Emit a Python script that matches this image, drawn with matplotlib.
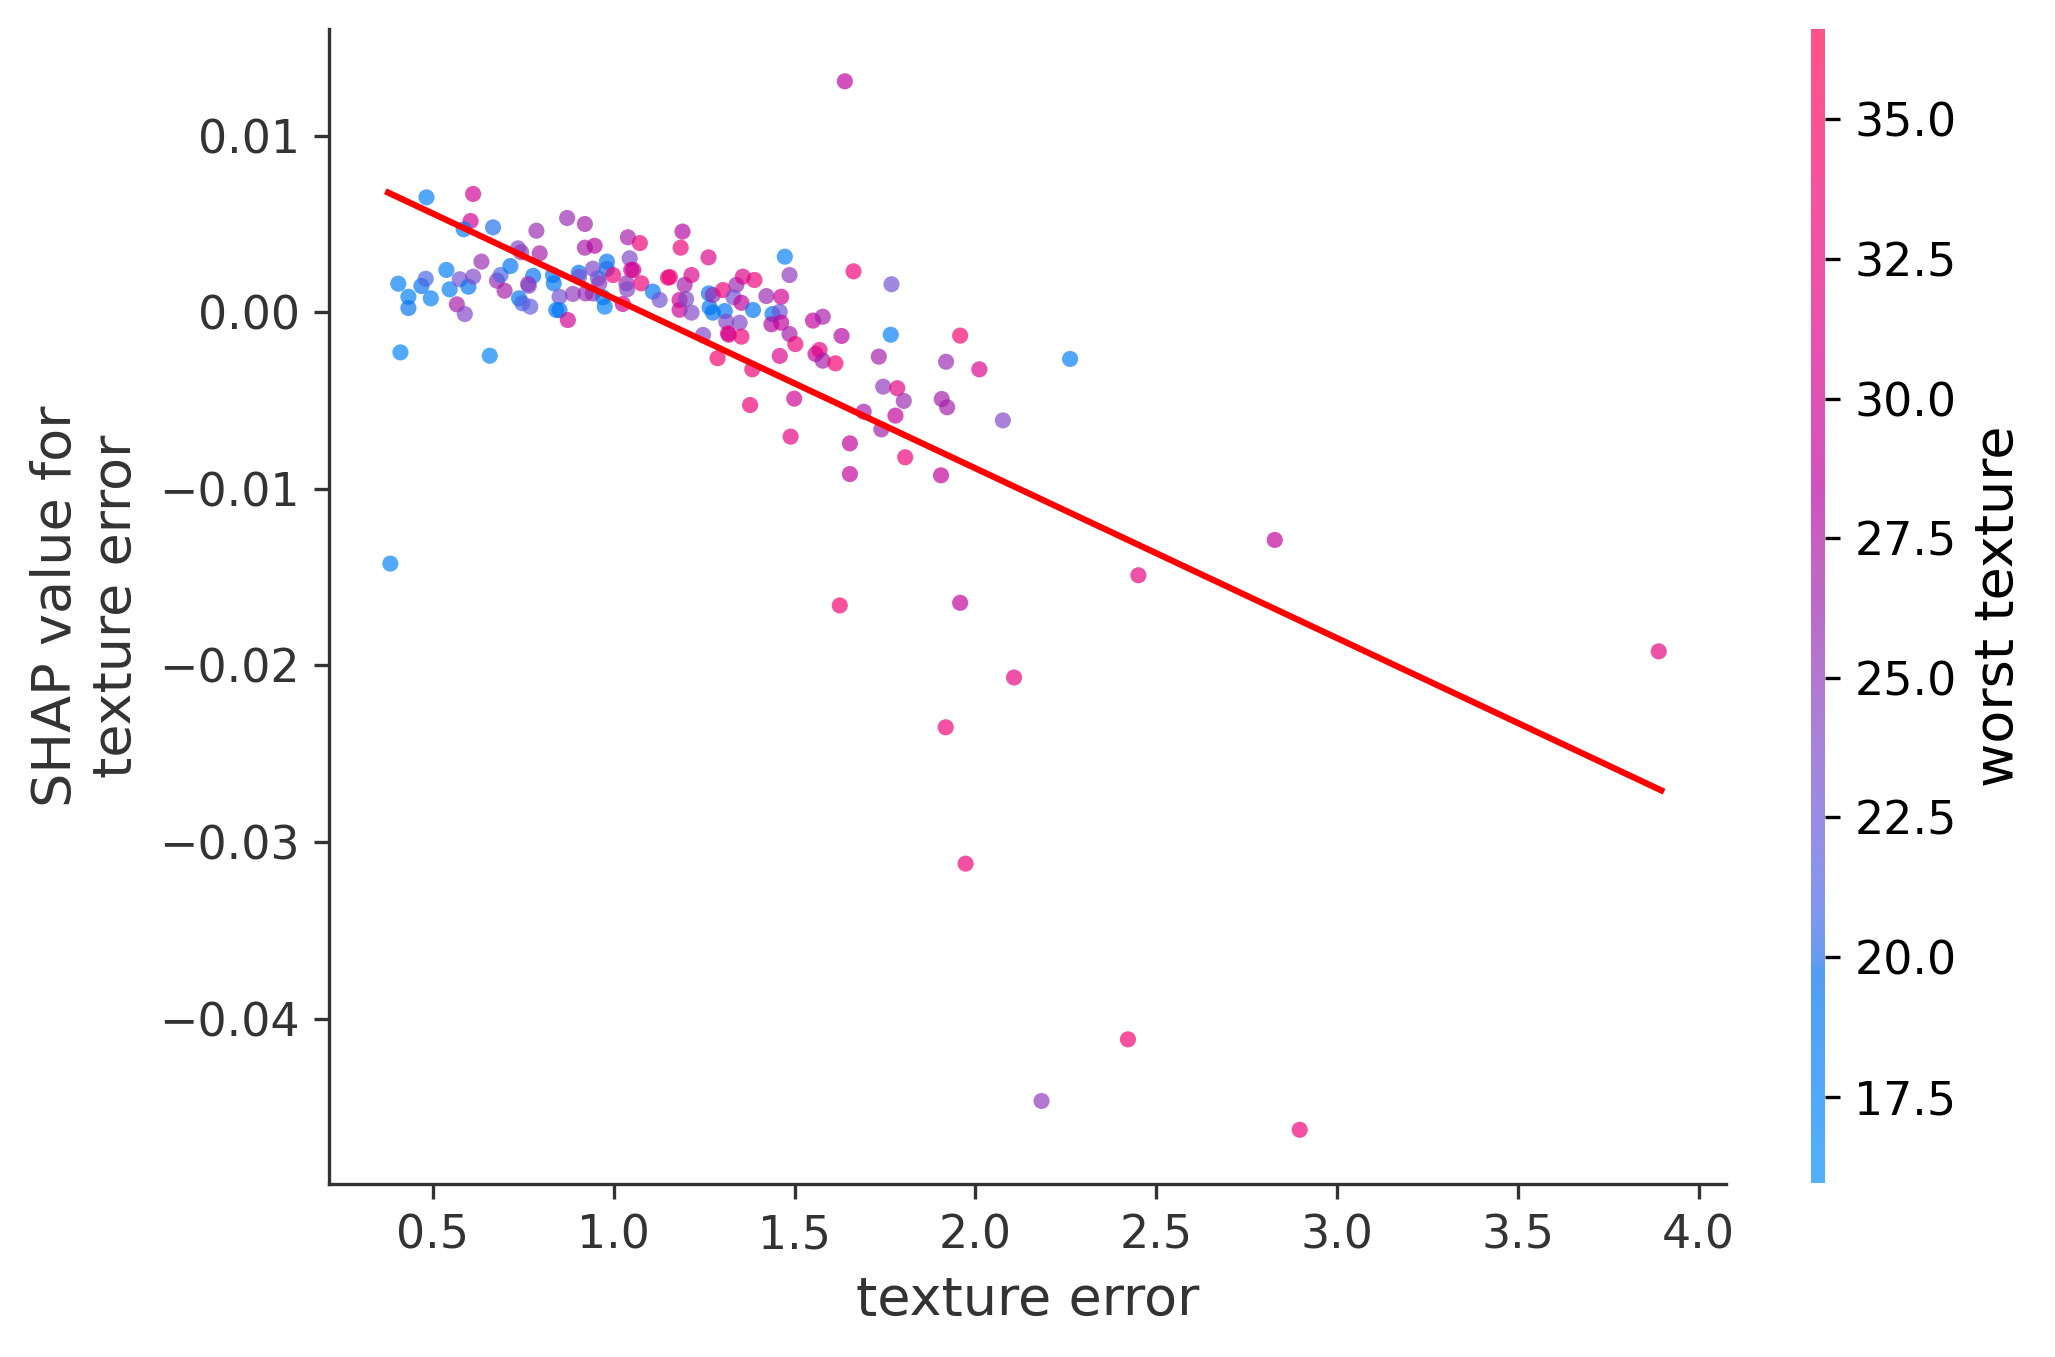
import numpy as np
import matplotlib
matplotlib.use("Agg")
import matplotlib.pyplot as plt
from matplotlib.colors import LinearSegmentedColormap

# values
texture_error = [
    0.482, 0.611, 0.604, 0.585, 0.666, 0.786, 0.871, 0.920, 0.920, 0.947,
    1.039, 1.072, 1.190, 1.185, 1.262, 0.404, 0.432, 0.432, 0.410, 0.657,
    0.468, 0.480, 0.494, 0.537, 0.546, 0.574, 0.598, 0.611, 0.634, 0.566,
    0.588, 0.677, 0.687, 0.698, 0.714, 0.735, 0.744, 0.795, 0.777, 0.763,
    0.765, 0.738, 0.747, 0.769, 0.832, 0.834, 0.850, 0.841, 0.850, 0.873,
    0.887, 0.903, 0.904, 0.942, 0.922, 0.942, 0.956, 0.960, 0.981, 0.981,
    0.975, 0.970, 0.998, 1.025, 1.044, 1.048, 1.054, 1.035, 1.076, 1.037,
    1.108, 1.127, 1.150, 1.155, 1.196, 1.215, 1.182, 1.182, 1.200, 1.215,
    1.247, 1.263, 1.265, 1.274, 1.274, 1.302, 1.307, 1.311, 1.339, 1.331,
    1.353, 1.357, 1.389, 1.385, 1.348, 1.316, 1.318, 1.353, 1.287, 1.383,
    1.473, 1.486, 1.663, 1.768, 1.422, 1.463, 1.439, 1.459, 1.436, 1.463,
    1.486, 1.502, 1.551, 1.578, 1.630, 1.766, 1.958, 2.262, 1.459, 1.558,
    1.569, 1.578, 1.613, 1.733, 1.919, 2.011, 1.499, 1.377, 1.489, 1.653,
    1.653, 1.691, 1.745, 1.784, 1.802, 1.779, 1.740, 1.806, 1.907, 1.922,
    1.905, 2.076,
    1.639, 0.382, 2.828, 2.451, 3.890, 1.625, 1.958, 2.107, 1.918, 1.973,
    2.422, 2.183, 2.897,
]
shap_values = [
    0.00651, 0.00670, 0.00517, 0.00470, 0.00481, 0.00462, 0.00534, 0.00500, 0.00366, 0.00377,
    0.00425, 0.00392, 0.00457, 0.00366, 0.00311, 0.00162, 0.00088, 0.00024, -0.00227, -0.00246,
    0.00149, 0.00190, 0.00079, 0.00240, 0.00130, 0.00187, 0.00145, 0.00202, 0.00287, 0.00045,
    -0.00010, 0.00179, 0.00211, 0.00122, 0.00262, 0.00362, 0.00340, 0.00334, 0.00206, 0.00160,
    0.00150, 0.00079, 0.00051, 0.00032, 0.00211, 0.00164, 0.00088, 0.00013, 0.00012, -0.00044,
    0.00104, 0.00224, 0.00200, 0.00247, 0.00107, 0.00107, 0.00193, 0.00164, 0.00287, 0.00245,
    0.00032, 0.00085, 0.00211, 0.00047, 0.00306, 0.00240, 0.00240, 0.00164, 0.00164, 0.00130,
    0.00117, 0.00070, 0.00196, 0.00200, 0.00155, 0.00211, 0.00070, 0.00014, 0.00075, -0.00002,
    -0.00128, 0.00107, 0.00028, -0.00002, 0.00098, 0.00126, 0.00007, -0.00053, 0.00155, 0.00085,
    0.00054, 0.00202, 0.00183, 0.00013, -0.00059, -0.00119, -0.00127, -0.00138, -0.00260, -0.00323,
    0.00315, 0.00211, 0.00232, 0.00159, 0.00092, 0.00088, -0.00010, 0.00003, -0.00068, -0.00059,
    -0.00123, -0.00180, -0.00047, -0.00025, -0.00134, -0.00127, -0.00132, -0.00264, -0.00247, -0.00236,
    -0.00213, -0.00274, -0.00289, -0.00251, -0.00280, -0.00323, -0.00489, -0.00525, -0.00704, -0.00742,
    -0.00916, -0.00563, -0.00421, -0.00430, -0.00502, -0.00585, -0.00663, -0.00821, -0.00491, -0.00538,
    -0.00923, -0.00612,
    0.01308, -0.01423, -0.01289, -0.01489, -0.01920, -0.01660, -0.01645, -0.02068, -0.02350, -0.03122,
    -0.04117, -0.04466, -0.04629,
]
worst_texture = [
    18, 30, 30, 18, 20, 26, 26, 27, 27, 28,
    27, 33, 28, 33, 31, 18, 18, 19, 17, 17,
    19, 21, 18, 18, 18, 23, 19, 24, 26, 27,
    24, 26, 21, 27, 19, 24, 25, 27, 19, 26,
    24, 19, 21, 22, 19, 19, 23, 19, 19, 30,
    25, 19, 23, 24, 26, 26, 22, 25, 19, 20,
    18, 19, 33, 30, 24, 30, 30, 26, 33, 24,
    19, 23, 33, 33, 27, 31, 30, 30, 24, 24,
    24, 19, 19, 19, 26, 33, 19, 24, 26, 23,
    29, 31, 33, 19, 24, 33, 30, 33, 34, 33,
    18, 25, 33, 23, 26, 30, 19, 23, 28, 29,
    27, 33, 29, 27, 28, 18, 34, 18, 31, 29,
    32, 27, 34, 27, 26, 31, 30, 33, 32, 29,
    29, 27, 25, 32, 26, 29, 27, 33, 27, 27,
    29, 24,
    28.5, 17, 29, 32, 32, 34, 29, 32, 33, 33,
    34, 25, 33,
]

# red line endpoints as drawn in the reference
trend_x = [0.376, 3.897]
trend_y = [0.00678, -0.02707]

color_min, color_max = 15.95, 36.62


# shap-like red_blue colormap (interpolation in LCH space)
def lch_to_rgb(l, c, h):
    a = c * np.cos(h)
    b = c * np.sin(h)
    fy = (l + 16.0) / 116.0
    fx = fy + a / 500.0
    fz = fy - b / 200.0
    def finv(t):
        return t ** 3 if t > 6 / 29 else 3 * (6 / 29) ** 2 * (t - 4 / 29)
    xyz = np.array([0.95047 * finv(fx), finv(fy), 1.08883 * finv(fz)])
    m = np.array([[3.2406, -1.5372, -0.4986],
                  [-0.9689, 1.8758, 0.0415],
                  [0.0557, -0.2040, 1.0570]])
    rgb = m @ xyz
    rgb = np.where(rgb > 0.0031308, 1.055 * np.abs(rgb) ** (1 / 2.4) - 0.055, 12.92 * rgb)
    return np.clip(rgb, 0, 1)


nsteps = 100
l_vals = list(np.linspace(54., 40., nsteps // 2)) + list(np.linspace(40., 54., nsteps // 2))
c_vals = np.linspace(70., 90., nsteps)
h_vals = np.linspace(4.6588, 0.35470565 + 2 * np.pi, nsteps)
cmap_colors = [lch_to_rgb(l, c, h) for l, c, h in zip(l_vals, c_vals, h_vals)]
red_blue = LinearSegmentedColormap.from_list("red_blue", cmap_colors)

fig = plt.figure(figsize=(2055 / 300, 1357 / 300), dpi=300)
ax = fig.add_axes([0.1601, 0.1275, 0.6798, 0.8511])
cax = fig.add_axes([0.8813, 0.128, 0.0068, 0.8508])

sc = ax.scatter(texture_error, shap_values, c=worst_texture, cmap=red_blue,
                vmin=color_min, vmax=color_max, s=15, alpha=0.68, linewidths=0)
ax.plot(trend_x, trend_y, color="red", lw=1.5)

ax.set_xlim(0.2124, 4.076)
ax.set_ylim(-0.04936, 0.01604)
ax.set_xlabel("texture error", fontsize=13, color="#333333")
ax.set_ylabel("SHAP value for\ntexture error", fontsize=13, color="#333333")
ax.spines["top"].set_visible(False)
ax.spines["right"].set_visible(False)
ax.spines["left"].set_color("#333333")
ax.spines["bottom"].set_color("#333333")
ax.tick_params(labelsize=11, color="#333333", labelcolor="#333333")

cb = fig.colorbar(sc, cax=cax)
cb.outline.set_visible(False)
cb.set_label("worst texture", fontsize=13)
cb.ax.tick_params(labelsize=11)

fig.savefig("out.png", dpi=300)
